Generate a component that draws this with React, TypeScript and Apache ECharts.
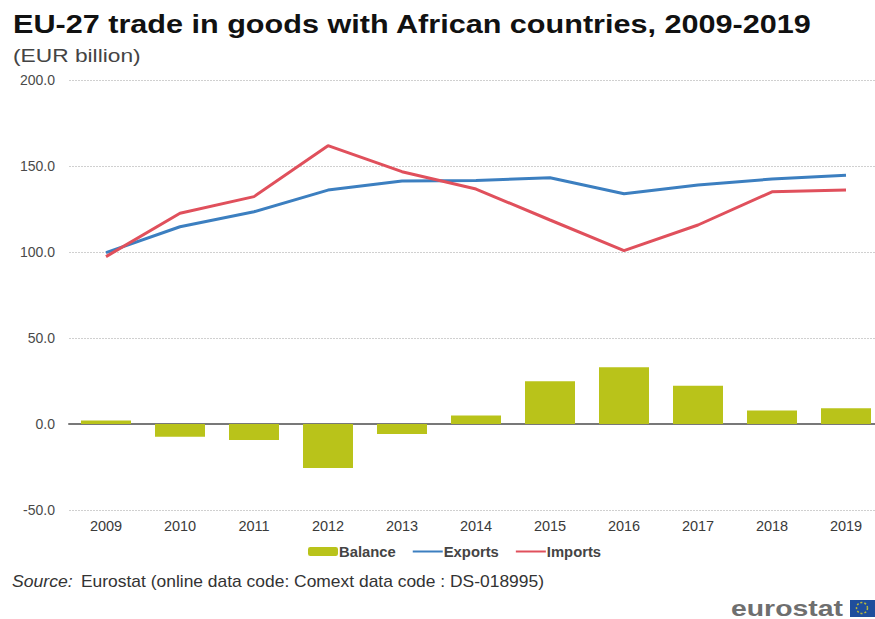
import React, { useEffect, useRef } from "react";
import * as echarts from "echarts";

const years = ["2009", "2010", "2011", "2012", "2013", "2014", "2015", "2016", "2017", "2018", "2019"];
const balance = [2.1, -7.4, -9.3, -25.6, -5.8, 5, 24.8, 33, 22.3, 7.8, 9.1];
const exportsEur = [99.6, 114.7, 123.4, 136, 141.3, 141.5, 143.2, 133.9, 139, 142.4, 144.6];
const importsEur = [97.3, 122.5, 132.2, 161.8, 146.7, 136.6, 118.6, 100.8, 115.7, 135, 136];

const FONT = '"Liberation Sans", Arial, sans-serif';
const OLIVE = "#b9c31a";
const BLUE = "#3c7fc0";
const RED = "#e0505c";

// Text stretched horizontally, anchored at its left edge and vertical middle.
const wideText = (text: string, x: number, y: number, font: string, fill: string, scaleX: number) => ({
  type: "text",
  x,
  y,
  scaleX,
  style: { text, font, fill, align: "left", verticalAlign: "middle" },
});

export default function App() {
  const ref = useRef<HTMLDivElement>(null);

  useEffect(() => {
    document.body.style.margin = "0";
    const chart = echarts.init(ref.current!, null, { renderer: "svg" });
    chart.setOption({
      animation: false,
      backgroundColor: "#ffffff",
      textStyle: { fontFamily: FONT },
      grid: { left: 69, right: -8, top: 80, bottom: 109, containLabel: false, outerBoundsMode: "none" },
      legend: {
        top: 544,
        left: 308,
        padding: 0,
        itemGap: 16,
        itemWidth: 30,
        itemHeight: 9,
        data: [
          { name: "Balance" },
          { name: "Exports", itemStyle: { opacity: 0 } },
          { name: "Imports", itemStyle: { opacity: 0 } },
        ],
        textStyle: { fontFamily: FONT, fontSize: 14.8, fontWeight: "bold", color: "#444444", padding: [0, 0, 0, -4] },
      },
      xAxis: {
        type: "category",
        data: years,
        position: "bottom",
        axisTick: { show: false },
        axisLine: { onZero: true, lineStyle: { color: "#787878", width: 2 } },
        axisLabel: { color: "#3a3a3a", fontSize: 14.5, fontFamily: FONT, interval: 0, margin: 8 },
      },
      yAxis: {
        type: "value",
        min: -50,
        max: 200,
        interval: 50,
        axisLine: { show: false },
        axisTick: { show: false },
        axisLabel: {
          color: "#4a4a4a",
          fontSize: 14,
          fontFamily: FONT,
          margin: 14,
          formatter: (v: number) => v.toFixed(1),
        },
        splitLine: { lineStyle: { color: "#d0d0d0", type: [2, 1], width: 1 } },
      },
      series: [
        { name: "Balance", type: "bar", data: balance, barWidth: 50, itemStyle: { color: OLIVE } },
        {
          name: "Exports",
          type: "line",
          data: exportsEur,
          symbol: "none",
          lineStyle: { color: BLUE, width: 3 },
          itemStyle: { color: BLUE },
        },
        {
          name: "Imports",
          type: "line",
          data: importsEur,
          symbol: "none",
          lineStyle: { color: RED, width: 3 },
          itemStyle: { color: RED },
        },
      ],
      graphic: [
        wideText("EU-27 trade in goods with African countries, 2009-2019", 13, 24, `bold 25.5px ${FONT}`, "#111111", 1.2),
        wideText("(EUR billion)", 13, 55, `18.5px ${FONT}`, "#444444", 1.23),
        wideText("Source:", 12, 582, `italic 16px ${FONT}`, "#333333", 1.1),
        wideText("Eurostat (online data code: Comext data code : DS-018995)", 81, 582, `16px ${FONT}`, "#333333", 1.09),
        wideText("eurostat", 731, 608, `bold 22px ${FONT}`, "#6f6f6f", 1.29),
        { type: "rect", x: 850, y: 600, shape: { x: 0, y: 0, width: 25, height: 17 }, style: { fill: "#1f4e9c" } },
        {
          type: "circle",
          x: 862,
          y: 608,
          shape: { cx: 0, cy: 0, r: 5.5 },
          style: { fill: "none", stroke: "#b8b83c", lineWidth: 1.5, lineDash: [2, 2] },
        },
      ],
    });
    return () => chart.dispose();
  }, []);

  return <div ref={ref} style={{ position: "absolute", left: 0, top: 0, width: 875, height: 619 }} />;
}
